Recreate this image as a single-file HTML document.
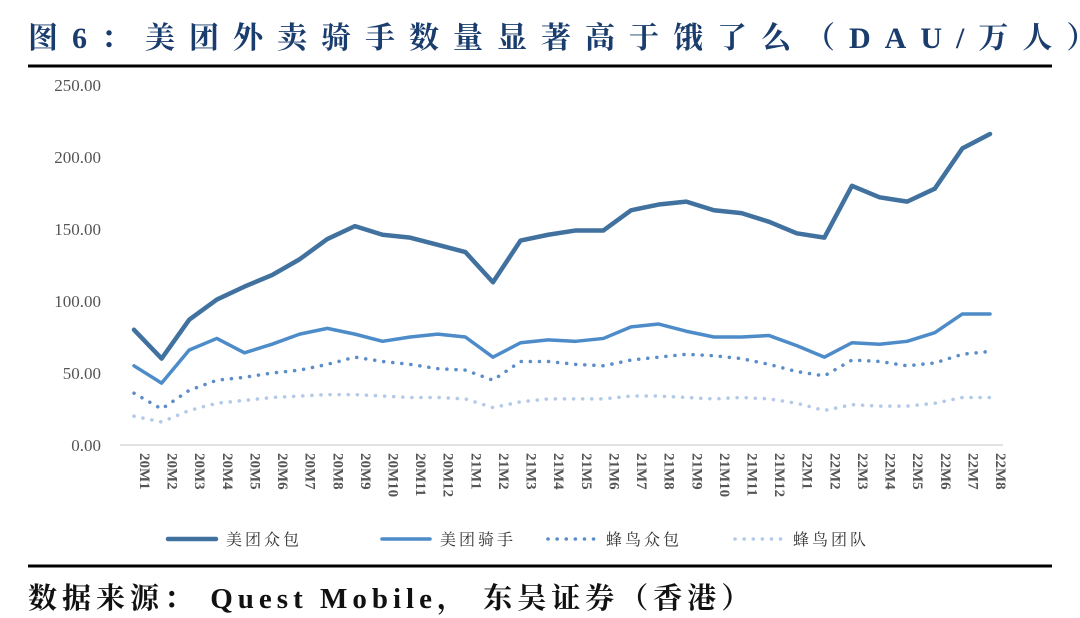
<!DOCTYPE html>
<html><head><meta charset="utf-8"><style>
body{margin:0;background:#fff;width:1080px;height:618px;overflow:hidden;font-family:"Liberation Serif","Noto Serif CJK SC",serif}
#title{position:absolute;left:28px;top:13px;font-size:30px;font-weight:bold;color:#1a3d6e;letter-spacing:14px;white-space:nowrap}
#src{position:absolute;left:28px;top:576px;font-size:29px;font-weight:bold;color:#111;letter-spacing:5px;white-space:nowrap}
</style></head><body>
<div id="title">图6：美团外卖骑手数量显著高于饿了么（DAU/万人）</div>
<svg id="chart" width="1080" height="618" style="position:absolute;left:0;top:0">
<line x1="28" y1="66" x2="1052" y2="66" stroke="#000" stroke-width="3"/>
<line x1="28" y1="566" x2="1052" y2="566" stroke="#000" stroke-width="3"/>
<g id="plot"></g>
</svg>
<div id="src">数据来源： Quest Mobile， 东吴证券（香港）</div>
<script>
const categories=["20M1","20M2","20M3","20M4","20M5","20M6","20M7","20M8","20M9","20M10","20M11","20M12","21M1","21M2","21M3","21M4","21M5","21M6","21M7","21M8","21M9","21M10","21M11","21M12","22M1","22M2","22M3","22M4","22M5","22M6","22M7","22M8"];
const mtCrowd=[80,60,87,101,110,118,129,143,152,146,144,139,134,113,142,146,149,149,163,167,169,163,161,155,147,144,180,172,169,178,206,216];
const mtRider=[55,43,66,74,64,70,77,81,77,72,75,77,75,61,71,73,72,74,82,84,79,75,75,76,69,61,71,70,72,78,91,91];
const fnCrowd=[36,25,38,45,47,50,52,56,61,58,56,53,52,45,58,58,56,55,59,61,63,62,60,56,51,48,59,58,55,57,63,65];
const fnTeam=[20,16,24,29,31,33,34,35,35,34,33,33,32,26,30,32,32,32,34,34,33,32,33,32,29,24,28,27,27,29,33,33];
const seriesNames=["美团众包","美团骑手","蜂鸟众包","蜂鸟团队"];
const yTicks=[0,50,100,150,200,250];
const NS="http://www.w3.org/2000/svg";
const g=document.getElementById('plot');
const x0=134,x1=990,yBase=445,yTop=85,yMax=250;
const xs=i=>x0+(x1-x0)*i/(categories.length-1);
const ys=v=>yBase-(yBase-yTop)*v/yMax;
function mk(t,a){const e=document.createElementNS(NS,t);for(const k in a)e.setAttribute(k,a[k]);g.appendChild(e);return e;}
const ax=mk('line',{x1:120,y1:yBase,x2:1003,y2:yBase,stroke:'#d9d9d9','stroke-width':1.5});


yTicks.forEach(v=>{const t=mk('text',{x:101,y:ys(v)+6,'text-anchor':'end','font-size':17,fill:'#555','font-family':'Liberation Serif, serif'});t.textContent=v.toFixed(2);

});
categories.forEach((c,i)=>{const t=mk('text',{transform:`translate(${xs(i)+6},453) rotate(90)`,'font-size':15,'font-weight':'bold',fill:'#555','font-family':'Liberation Serif, serif'});t.textContent=c;

});
const styles=[{c:'#41719f',w:4.5,d:null},{c:'#4d8cc9',w:3.5,d:null},{c:'#5b8dc8',w:3.5,d:'0.1 9'},{c:'#b3c9e8',w:3.5,d:'0.1 9'}];
[mtCrowd,mtRider,fnCrowd,fnTeam].forEach((s,k)=>{
 const st=styles[k];
 const p=mk('polyline',{points:s.map((v,i)=>xs(i)+','+ys(v)).join(' '),fill:'none',stroke:st.c,'stroke-width':st.w,'stroke-linejoin':'round','stroke-linecap':'round'});
 if(st.d)p.setAttribute('stroke-dasharray',st.d);
 
 
 const lx=[168,382,548,735][k];
 const l=mk('line',{x1:lx,y1:539,x2:lx+48,y2:539,stroke:st.c,'stroke-width':st.w,'stroke-linecap':'round'});
 if(st.d)l.setAttribute('stroke-dasharray',st.d);
 
 
 const t=mk('text',{x:lx+58,y:545,'font-size':16,fill:'#333','letter-spacing':3,'font-family':'Liberation Serif, Noto Serif CJK SC, serif'});t.textContent=seriesNames[k];
 
 
});
</script>
</body></html>
